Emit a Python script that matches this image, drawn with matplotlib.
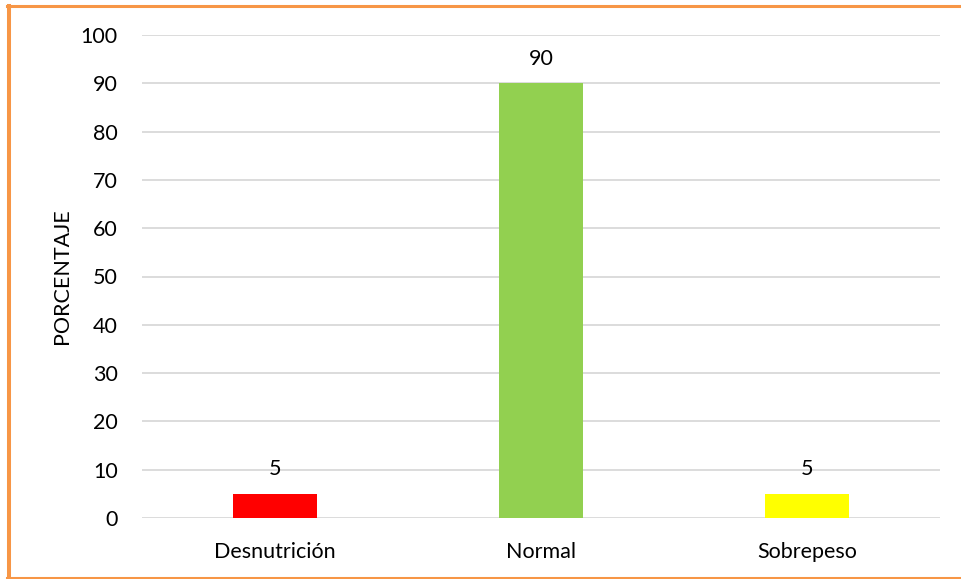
import matplotlib.pyplot as plt
from matplotlib.lines import Line2D

categories = ["Desnutrición", "Normal", "Sobrepeso"]
values = [5, 90, 5]
colors = ["#FF0000", "#92D050", "#FFFF00"]
yticks = [0, 10, 20, 30, 40, 50, 60, 70, 80, 90, 100]

plt.rcParams['font.family'] = ['Lato', 'DejaVu Sans']

W, H = 961, 579
fs = 15.5
fig = plt.figure(figsize=(W/100, H/100), dpi=100)
ax = fig.add_axes([142/W, 1-518/H, (940-142)/W, (518-35)/H])

x = range(len(categories))
ax.bar(x, values, width=0.316, color=colors, zorder=3)
for xi, v in zip(x, values):
    ax.text(xi, v + 3, str(v), ha='center', va='bottom', fontsize=fs, color='#000000')

ax.set_xlim(-0.5, 2.5)
ax.set_ylim(0, 100)
ax.set_yticks(yticks)
ax.set_xticks(list(x))
ax.set_xticklabels(categories, fontsize=fs)
ax.tick_params(axis='y', labelsize=fs, length=0, pad=17.5)
ax.tick_params(axis='x', length=0, pad=17.5)
ax.grid(axis='y', color='#D9D9D9', linewidth=1.3, zorder=0)
for s in ax.spines.values():
    s.set_visible(False)
ax.set_ylabel("PORCENTAJE", fontsize=fs, labelpad=6)

oc = '#F79646'
fig.add_artist(Line2D([9/W, 9/W], [1-5.5/H, 1-577.5/H], color=oc, lw=2.9, transform=fig.transFigure))
fig.add_artist(Line2D([7/W, 1.0], [1-5.5/H, 1-5.5/H], color=oc, lw=2.2, transform=fig.transFigure))
fig.add_artist(Line2D([7/W, 1.0], [1-577.5/H, 1-577.5/H], color=oc, lw=2.2, transform=fig.transFigure))

fig.savefig("out.png", dpi=100)
